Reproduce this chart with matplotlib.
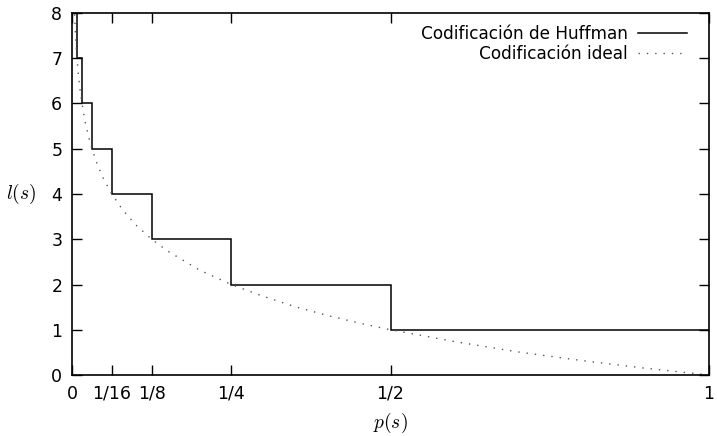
import matplotlib
matplotlib.use("Agg")
import matplotlib.pyplot as plt

plt.rcParams["font.family"] = ["DejaVu Sans"]
plt.rcParams["mathtext.fontset"] = "cm"

# Huffman code lengths (step function)
huffman_edges = [0, 1/128, 1/64, 1/32, 1/16, 1/8, 1/4, 1/2, 1]
huffman_lengths = [8, 7, 6, 5, 4, 3, 2, 1]

# ideal code length
ideal_p = [0.004, 0.005, 0.006, 0.007, 0.008, 0.01, 0.0125, 0.015, 0.02, 0.025,
           0.03, 0.04, 0.05, 0.0625, 0.08, 0.1, 0.125, 0.15, 0.2, 0.25,
           0.3, 0.35, 0.4, 0.45, 0.5, 0.6, 0.7, 0.8, 0.9, 1.0]
ideal_l = [7.97, 7.64, 7.38, 7.16, 6.97, 6.64, 6.32, 6.06, 5.64, 5.32,
           5.06, 4.64, 4.32, 4.00, 3.64, 3.32, 3.00, 2.74, 2.32, 2.00,
           1.74, 1.51, 1.32, 1.15, 1.00, 0.74, 0.51, 0.32, 0.15, 0.00]

x_ticks = [0, 1/16, 1/8, 1/4, 1/2, 1]
x_tick_labels = ["0", "1/16", "1/8", "1/4", "1/2", "1"]
y_ticks = [0, 1, 2, 3, 4, 5, 6, 7, 8]

fig = plt.figure(figsize=(7.17, 4.36), dpi=100)
ax = fig.add_axes([72/717, 1 - 375/436, (709 - 72)/717, (375 - 13)/436])

ax.stairs(huffman_lengths, huffman_edges, baseline=None, color="black",
          linewidth=1.1, label="Codificación de Huffman")
ax.plot(ideal_p, ideal_l, color="#555555", linewidth=1.0,
        linestyle=(0, (1, 5)), label="Codificación ideal")

ax.set_xlim(0, 1)
ax.set_ylim(0, 8)
ax.set_xticks(x_ticks)
ax.set_xticklabels(x_tick_labels)
ax.set_yticks(y_ticks)
ax.tick_params(direction="in", top=True, right=True, length=7, width=1.0,
               labelsize=12.5, pad=7)
for spine in ax.spines.values():
    spine.set_linewidth(1.2)

ax.set_xlabel("$p(s)$", fontsize=14, labelpad=6)
ax.set_ylabel("$l(s)$", fontsize=14, rotation=0, labelpad=22, va="center")

ax.legend(loc="upper right", bbox_to_anchor=(1 - 10/637, 1), frameon=False,
          markerfirst=False, fontsize=12.2, handlelength=2.9,
          borderaxespad=0.3, labelspacing=0.15, handletextpad=0.6)

fig.savefig("out.png", dpi=100)
